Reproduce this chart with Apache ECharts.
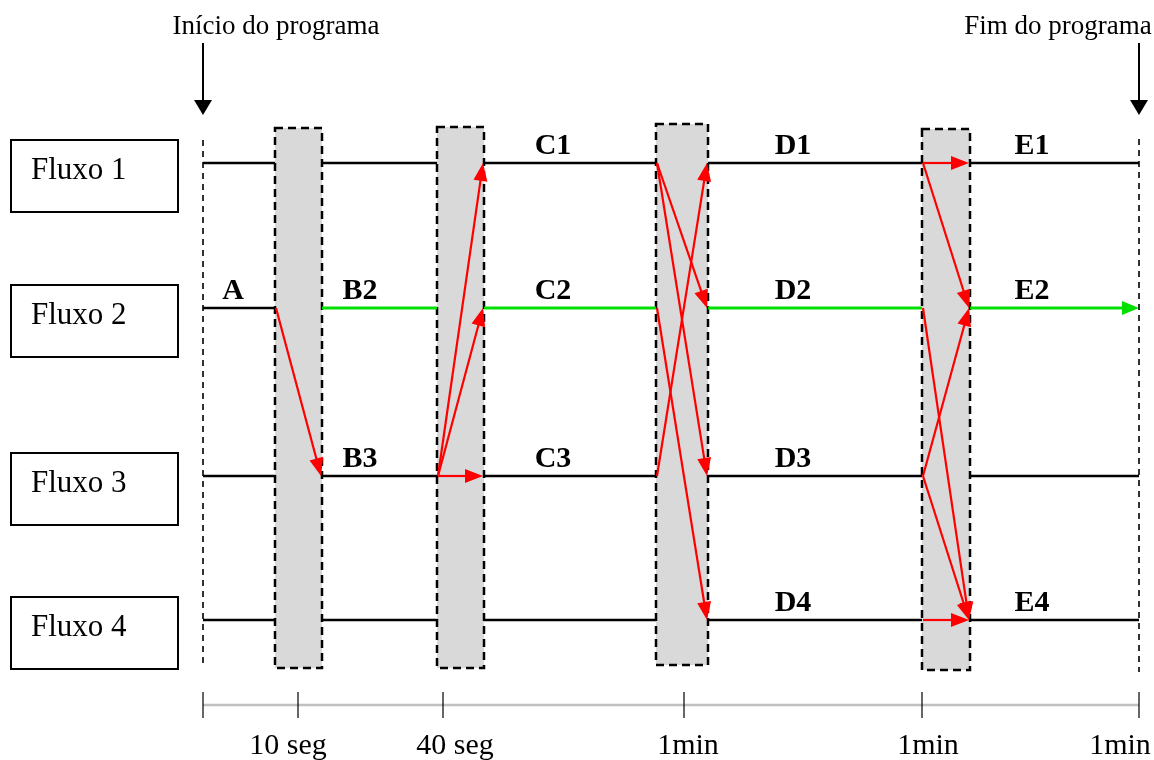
<!DOCTYPE html>
<html>
<head>
<meta charset="utf-8">
<script src="https://cdn.jsdelivr.net/npm/echarts@6/dist/echarts.min.js"></script>
<style>html,body{margin:0;padding:0;background:#fff}#c{width:1154px;height:760px}</style>
</head>
<body>
<div id="c"></div>
<script>
// ---- diagram data (diagram units) ----
const flows = ['Fluxo 1', 'Fluxo 2', 'Fluxo 3', 'Fluxo 4'];
const laneLevels = [163, 308, 476, 620];
const programStart = 203;
const programEnd = 1139;
const windowStarts = [275, 437, 656, 922];
const windowEnds = [322, 484, 708, 970];
const windowTops = [128, 127, 124, 129];
const windowBottoms = [668, 668, 665, 670];
const greenLane = 1;
const greenFromSegment = 1;
const segmentLabels = ['A', 'B2', 'B3', 'C1', 'C2', 'C3', 'D1', 'D2', 'D3', 'D4', 'E1', 'E2', 'E4'];
const labelLane = [1, 1, 2, 0, 1, 2, 0, 1, 2, 3, 0, 1, 3];
const labelSegment = [0, 1, 1, 2, 2, 2, 3, 3, 3, 3, 4, 4, 4];
const segmentLabelX = [233, 360, 553, 793, 1032];
// [window, fromLane, toLane]
const transitions = [
  [0, 1, 2],
  [1, 2, 0], [1, 2, 1], [1, 2, 2],
  [2, 0, 1], [2, 0, 2], [2, 1, 3], [2, 2, 0],
  [3, 0, 0], [3, 0, 1], [3, 1, 3], [3, 2, 1], [3, 2, 3], [3, 3, 3]
];
const timeTicks = [203, 298, 443, 684, 922, 1139];
const timeLabels = ['10 seg', '40 seg', '1min', '1min', '1min'];
const timeLabelX = [288, 455, 688, 928, 1120];
const startText = 'Início do programa';
const endText = 'Fim do programa';

// ---- helpers ----
const SERIF = '"Liberation Serif", "Times New Roman", serif';
function arrow(p1, p2, color, lw, headLen, headW) {
  const dx = p2[0] - p1[0], dy = p2[1] - p1[1];
  const L = Math.hypot(dx, dy) || 1;
  const ux = dx / L, uy = dy / L;
  const bx = p2[0] - ux * headLen, by = p2[1] - uy * headLen;
  const nx = -uy, ny = ux;
  return [
    { type: 'line', shape: { x1: p1[0], y1: p1[1], x2: bx + ux * 2, y2: by + uy * 2 }, style: { stroke: color, lineWidth: lw } },
    { type: 'polygon', shape: { points: [[p2[0], p2[1]], [bx + nx * headW / 2, by + ny * headW / 2], [bx - nx * headW / 2, by - ny * headW / 2]] }, style: { fill: color } }
  ];
}
const segBounds = [programStart];
windowStarts.forEach((s, i) => { segBounds.push(s, windowEnds[i]); });
segBounds.push(programEnd);

const laneSegData = [];
flows.forEach((f, l) => { for (let s = 0; s < 5; s++) laneSegData.push([segBounds[2 * s], segBounds[2 * s + 1], l, s]); });

const chart = echarts.init(document.getElementById('c'), null, { renderer: 'canvas' });
chart.setOption({
  animation: false,
  backgroundColor: '#fff',
  grid: { left: 0, right: 0, top: 0, bottom: 0 },
  xAxis: { type: 'value', min: 0, max: 1154, show: false },
  yAxis: { type: 'value', min: 0, max: 760, inverse: true, show: false },
  series: [
    { // transition windows
      type: 'custom', z: 1,
      data: windowStarts.map((s, i) => [s, windowEnds[i], windowTops[i], windowBottoms[i]]),
      renderItem: (p, api) => {
        const a = api.coord([api.value(0), api.value(2)]);
        const b = api.coord([api.value(1), api.value(3)]);
        return { type: 'rect', shape: { x: a[0], y: a[1], width: b[0] - a[0], height: b[1] - a[1] },
          style: { fill: '#d9d9d9', stroke: '#000', lineWidth: 2.5, lineDash: [8, 5] } };
      }
    },
    { // lane segments
      type: 'custom', z: 2,
      data: laneSegData,
      renderItem: (p, api) => {
        const l = api.value(2), s = api.value(3);
        const y = laneLevels[l];
        const a = api.coord([api.value(0), y]);
        const b = api.coord([api.value(1), y]);
        const green = (l === greenLane && s >= greenFromSegment);
        if (green && s === 4) {
          return { type: 'group', children: arrow(a, b, '#00e000', 3, 17, 14) };
        }
        return { type: 'line', shape: { x1: a[0], y1: a[1], x2: b[0], y2: b[1] },
          style: { stroke: green ? '#00e000' : '#000', lineWidth: green ? 3 : 2.5 } };
      }
    },
    { // program start / end dashed lines
      type: 'custom', z: 2,
      data: [[programStart, 140, 665], [programEnd, 139, 672]],
      renderItem: (p, api) => {
        const a = api.coord([api.value(0), api.value(1)]);
        const b = api.coord([api.value(0), api.value(2)]);
        return { type: 'line', shape: { x1: a[0], y1: a[1], x2: b[0], y2: b[1] },
          style: { stroke: '#000', lineWidth: 1.6, lineDash: [6, 5] } };
      }
    },
    { // red transitions
      type: 'custom', z: 5,
      data: transitions,
      renderItem: (p, api) => {
        const w = api.value(0), f = api.value(1), t = api.value(2);
        const a = api.coord([windowStarts[w] + 1, laneLevels[f]]);
        const b = api.coord([windowEnds[w] - 1, laneLevels[t]]);
        return { type: 'group', children: arrow(a, b, '#ff0000', 2.2, 18, 14) };
      }
    },
    { // segment labels
      type: 'custom', z: 6,
      data: segmentLabels.map((t, i) => [segmentLabelX[labelSegment[i]], laneLevels[labelLane[i]] - 17]),
      renderItem: (p, api) => {
        const c = api.coord([api.value(0), api.value(1)]);
        return { type: 'text', x: c[0], y: c[1],
          style: { text: segmentLabels[p.dataIndex], fill: '#000', font: 'bold 30px ' + SERIF, align: 'center', verticalAlign: 'middle' } };
      }
    },
    { // flow boxes
      type: 'custom', z: 6,
      data: flows.map((f, i) => [11, 178, laneLevels[i] - 23, laneLevels[i] + 49]),
      renderItem: (p, api) => {
        const a = api.coord([api.value(0), api.value(2)]);
        const b = api.coord([api.value(1), api.value(3)]);
        const tp = api.coord([api.value(0) + 20, laneLevels[p.dataIndex] + 8]);
        return { type: 'group', children: [
          { type: 'rect', shape: { x: a[0], y: a[1], width: b[0] - a[0], height: b[1] - a[1] },
            style: { fill: '#fff', stroke: '#000', lineWidth: 2 } },
          { type: 'text', x: tp[0], y: tp[1],
            style: { text: flows[p.dataIndex], fill: '#000', font: '31px ' + SERIF, align: 'left', verticalAlign: 'middle' } }
        ] };
      }
    },
    { // timeline axis line
      type: 'custom', z: 3,
      data: [[timeTicks[0], timeTicks[timeTicks.length - 1], 705]],
      renderItem: (p, api) => {
        const a = api.coord([api.value(0), api.value(2)]);
        const b = api.coord([api.value(1), api.value(2)]);
        return { type: 'line', shape: { x1: a[0], y1: a[1], x2: b[0], y2: b[1] }, style: { stroke: '#c0c0c0', lineWidth: 2.5 } };
      }
    },
    { // timeline ticks
      type: 'custom', z: 4,
      data: timeTicks.map(t => [t, 692, 718]),
      renderItem: (p, api) => {
        const a = api.coord([api.value(0), api.value(1)]);
        const b = api.coord([api.value(0), api.value(2)]);
        return { type: 'line', shape: { x1: a[0], y1: a[1], x2: b[0], y2: b[1] }, style: { stroke: '#000', lineWidth: 1.2 } };
      }
    },
    { // timeline labels
      type: 'custom', z: 4,
      data: timeLabels.map((t, i) => [timeLabelX[i], 746]),
      renderItem: (p, api) => {
        const c = api.coord([api.value(0), api.value(1)]);
        return { type: 'text', x: c[0], y: c[1],
          style: { text: timeLabels[p.dataIndex], fill: '#000', font: '30px ' + SERIF, align: 'center', verticalAlign: 'middle' } };
      }
    },
    { // start / end annotations
      type: 'custom', z: 4,
      data: [[programStart, 276], [programEnd, 1058]],
      renderItem: (p, api) => {
        const t = api.coord([api.value(1), 27]);
        const a = api.coord([api.value(0), 43]);
        const b = api.coord([api.value(0), 115]);
        return { type: 'group', children: [
          { type: 'text', x: t[0], y: t[1],
            style: { text: p.dataIndex === 0 ? startText : endText, fill: '#000', font: '27px ' + SERIF, align: 'center', verticalAlign: 'middle' } }
        ].concat(arrow(a, b, '#000', 2, 15, 18)) };
      }
    }
  ]
});
</script>
</body>
</html>
